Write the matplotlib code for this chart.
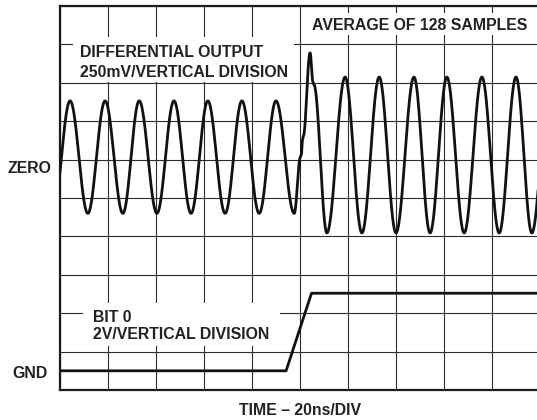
import numpy as np
import matplotlib.pyplot as plt
from matplotlib.patches import Rectangle

plt.rcParams['font.family'] = ['Liberation Sans', 'DejaVu Sans']

# differential output trace (divisions)
# extrema and kink points; x = time division, y = vertical division
diff_x = [-0.15, 0.21, 0.58, 0.94, 1.31, 1.65, 2.02, 2.375, 2.73, 3.08, 3.44,
          3.79, 4.15, 4.5, 4.88, 5.01, 5.03, 5.05, 5.07, 5.21, 5.27, 5.29,
          5.56, 5.94, 6.29, 6.65, 7.0, 7.375, 7.71, 8.06, 8.42, 8.79, 9.15,
          9.5, 9.83, 10.2]
diff_y = [4.6, 7.53, 4.6, 7.53, 4.6, 7.53, 4.6, 7.53, 4.6, 7.53, 4.6,
          7.53, 4.6, 7.53, 4.6, 6.07, 6.15, 6.5, 6.62, 8.78, 8.02, 7.95,
          4.09, 8.15, 4.09, 8.15, 4.09, 8.15, 4.09, 8.15, 4.09, 8.15, 4.09,
          8.15, 4.09, 8.15]

# bit 0 trace
bit_x = [-0.1, 4.71, 5.24, 10.2]
bit_y = [0.5, 0.5, 2.52, 2.52]

zero_level = 6
gnd_level = 0.5


def smooth(xs, ys, n=40):
    # half-cosine between consecutive read points (scope sine shape)
    px, py = [], []
    t = np.linspace(0, 1, n)
    for i in range(len(xs) - 1):
        px.append(xs[i] + (xs[i + 1] - xs[i]) * t)
        py.append(ys[i] + (ys[i + 1] - ys[i]) * (1 - np.cos(np.pi * t)) / 2)
    return np.concatenate(px), np.concatenate(py)


fig = plt.figure(figsize=(5.37, 4.2), dpi=100)
ax = fig.add_axes([60 / 537, 30 / 420, 480 / 537, 384 / 420])
ax.set_xlim(0, 10)
ax.set_ylim(0, 10)
ax.set_xticks(range(11))
ax.set_yticks(range(11))
ax.tick_params(length=0, labelbottom=False, labelleft=False)
ax.set_axisbelow(True)
ax.grid(True, color='#2b2b2b', lw=0.8)
for s in ['left', 'top', 'bottom']:
    ax.spines[s].set_linewidth(1.6)
    ax.spines[s].set_color('#1a1a1a')
ax.spines['right'].set_visible(False)

# white label boxes that cut the graticule
for (x0, y0, w, h) in [(0.27, 8.03, 4.6, 1.16), (5.06, 9.24, 5.5, 0.58),
                       (0.48, 1.15, 4.1, 1.12)]:
    ax.add_patch(Rectangle((x0, y0), w, h, facecolor='white', edgecolor='none', zorder=1))

sx, sy = smooth(diff_x, diff_y)
ax.plot(sx, sy, color='#111111', lw=2.0, zorder=3, solid_joinstyle='round')
ax.plot(bit_x, bit_y, color='#111111', lw=2.0, zorder=3)

kw = dict(fontsize=11.4, fontweight='bold', color='#222222', va='baseline', zorder=4)
ax.text(0.417, 8.67, 'DIFFERENTIAL OUTPUT', **kw)
ax.text(0.417, 8.15, '250mV/VERTICAL DIVISION', **kw)
ax.text(5.25, 9.375, 'AVERAGE OF 128 SAMPLES', **kw)
ax.text(0.6875, 1.77, 'BIT 0', **kw)
ax.text(0.6875, 1.33, '2V/VERTICAL DIVISION', **kw)
ax.text(-0.19, zero_level - 0.35, 'ZERO', ha='right', clip_on=False, **kw)
ax.text(-0.25, gnd_level - 0.19, 'GND', ha='right', clip_on=False, **kw)
ax.text(5.0, -0.65, 'TIME – 20ns/DIV', ha='center', clip_on=False, **kw)

fig.savefig('out.png', dpi=100)
